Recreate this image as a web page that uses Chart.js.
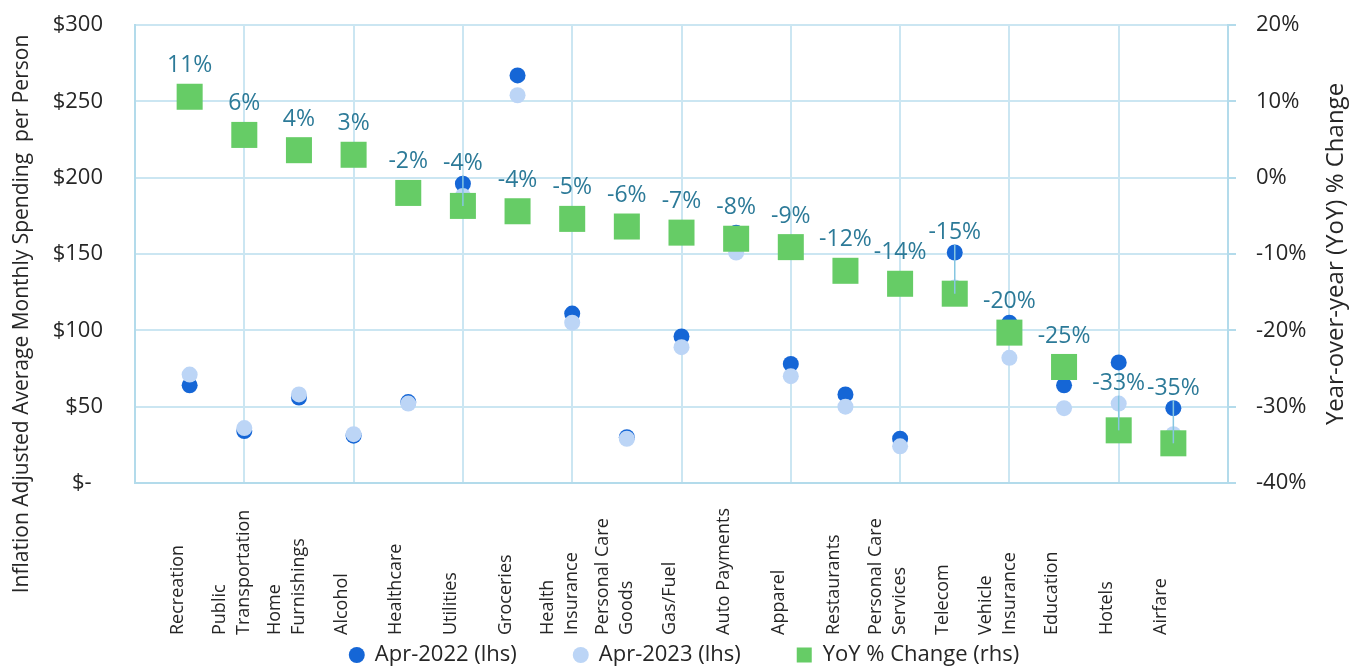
<!DOCTYPE html>
<html>
<head>
<meta charset="utf-8">
<script src="https://cdn.jsdelivr.net/npm/chart.js@4.4.0/dist/chart.umd.min.js"></script>
<style>
html, body { margin: 0; padding: 0; background: #fff; }
</style>
</head>
<body>
<canvas id="chart" width="1351" height="669"></canvas>
<script>
// Categories (multi-line ones split into lines)
const categories = [
    'Recreation', ['Public', 'Transportation'], ['Home', 'Furnishings'], 'Alcohol',
    'Healthcare', 'Utilities', 'Groceries', ['Health', 'Insurance'],
    ['Personal Care', 'Goods'], 'Gas/Fuel', 'Auto Payments', 'Apparel',
    'Restaurants', ['Personal Care', 'Services'], 'Telecom', ['Vehicle', 'Insurance'],
    'Education', 'Hotels', 'Airfare'
];

// Inflation adjusted average monthly spending per person ($)
const apr2022 = [64, 34, 56, 31, 53, 196, 267, 111, 30, 96, 164, 78, 58, 29, 151, 105, 64, 79, 49];
const apr2023 = [71, 36, 58, 32, 52, 188, 254, 105, 29, 89, 151, 70, 50, 24, 128, 82, 49, 52, 32];

// Year-over-year % change
const yoyChange = [10.6, 5.6, 3.6, 3.0, -2.0, -3.7, -4.4, -5.4, -6.4, -7.2, -8.0, -9.1, -12.2, -13.9, -15.2, -20.3, -24.8, -33.1, -34.8];

const leftTicks = { min: 0, max: 300, step: 50 };
const rightTicks = { min: -40, max: 20, step: 10 };

const FONT = "'Open Sans', sans-serif";
const gridColor = '#cbe6f2';
const axisColor = '#b3dbeb';
const textColor = '#262626';
const labelColor = '#2c7a98';

Chart.defaults.font.family = FONT;

function toPoints(values) {
    return values.map((v, i) => ({ x: i + 1, y: v }));
}

// fixed axis width, and no extra room above/below for the tick padding
function fixAxis(width) {
    return s => {
        s.width = width;
        s.paddingTop = 15;
        s.paddingBottom = 15;
    };
}

// Draws data labels, category labels, axis titles and the legend
const extraText = {
    id: 'extraText',
    afterDatasetsDraw(chart) {
        const ctx = chart.ctx;
        const squares = chart.getDatasetMeta(2).data;
        const dots = [chart.getDatasetMeta(0).data, chart.getDatasetMeta(1).data];
        ctx.save();
        ctx.font = '23px ' + FONT;
        ctx.textAlign = 'center';
        ctx.textBaseline = 'middle';
        squares.forEach((pt, i) => {
            let ly = pt.y - 31;
            let moved = false;
            // keep the label clear of the dots of the same category
            for (let pass = 0; pass < 3; pass++) {
                dots.forEach(d => {
                    if (Math.abs(d[i].y - ly) < 18) {
                        ly = d[i].y - 20;
                        moved = true;
                    }
                });
            }
            if (moved) {
                ctx.strokeStyle = '#86c6e1';
                ctx.lineWidth = 1.5;
                ctx.beginPath();
                ctx.moveTo(pt.x, ly + 12);
                ctx.lineTo(pt.x, pt.y);
                ctx.stroke();
            }
            ctx.fillStyle = labelColor;
            ctx.fillText(Math.round(yoyChange[i]) + '%', pt.x, ly);
        });
        ctx.restore();
    },
    afterDraw(chart) {
        const ctx = chart.ctx;
        const xs = chart.scales.x;
        const area = chart.chartArea;
        ctx.save();
        ctx.fillStyle = textColor;

        // category labels, rotated, starting from the bottom
        ctx.font = '18px ' + FONT;
        ctx.textAlign = 'left';
        ctx.textBaseline = 'middle';
        categories.forEach((c, i) => {
            const lines = Array.isArray(c) ? c : [c];
            const cx = xs.getPixelForValue(i + 1) - 12;
            lines.forEach((line, k) => {
                const lx = cx + (k - (lines.length - 1) / 2) * 24;
                ctx.save();
                ctx.translate(lx, 635);
                ctx.rotate(-Math.PI / 2);
                ctx.fillText(line, 0, 0);
                ctx.restore();
            });
        });

        // axis titles
        ctx.textAlign = 'center';
        ctx.font = '21px ' + FONT;
        ctx.save();
        ctx.translate(22, 314);
        ctx.rotate(-Math.PI / 2);
        ctx.fillText('Inflation Adjusted Average Monthly Spending  per Person', 0, 0);
        ctx.restore();

        ctx.font = '24px ' + FONT;
        ctx.save();
        ctx.translate(1336, (area.top + area.bottom) / 2);
        ctx.rotate(-Math.PI / 2);
        ctx.fillText('Year-over-year (YoY) % Change', 0, 0);
        ctx.restore();

        // legend
        ctx.font = '22px ' + FONT;
        ctx.textAlign = 'left';
        const sets = chart.data.datasets;
        const markerGap = 10, itemGap = 56, markerW = 16;
        const widths = sets.map(ds => markerW + markerGap + ctx.measureText(ds.label).width);
        const total = widths.reduce((a, b) => a + b, 0) + itemGap * (sets.length - 1);
        let lx = 684 - total / 2;
        const ly = 655;
        sets.forEach((ds, i) => {
            ctx.fillStyle = ds.backgroundColor;
            if (ds.pointStyle === 'rect') {
                ctx.fillRect(lx, ly - 7.5, 15, 15);
            } else {
                ctx.beginPath();
                ctx.arc(lx + 8, ly, 8, 0, Math.PI * 2);
                ctx.fill();
            }
            ctx.fillStyle = textColor;
            ctx.fillText(ds.label, lx + markerW + markerGap, ly);
            lx += widths[i] + itemGap;
        });

        ctx.restore();
    }
};

const ctx = document.getElementById('chart').getContext('2d');
new Chart(ctx, {
    type: 'scatter',
    data: {
        datasets: [{
            label: 'Apr-2022 (lhs)',
            data: toPoints(apr2022),
            yAxisID: 'y',
            pointStyle: 'circle',
            pointRadius: 8,
            backgroundColor: '#1566d6',
            borderWidth: 0,
            order: 2
        }, {
            label: 'Apr-2023 (lhs)',
            data: toPoints(apr2023),
            yAxisID: 'y',
            pointStyle: 'circle',
            pointRadius: 8,
            backgroundColor: '#bcd5f6',
            borderWidth: 0,
            order: 1
        }, {
            label: 'YoY % Change (rhs)',
            data: toPoints(yoyChange),
            yAxisID: 'y2',
            pointStyle: 'rect',
            pointRadius: 18.4,
            backgroundColor: '#66cc66',
            borderWidth: 0,
            order: 0
        }]
    },
    options: {
        responsive: false,
        animation: false,
        events: [],
        layout: { autoPadding: false, padding: { top: 25, left: 0, right: 0, bottom: 0 } },
        plugins: {
            legend: { display: false },
            tooltip: { enabled: false }
        },
        scales: {
            x: {
                type: 'linear',
                min: 0,
                max: categories.length + 1,
                ticks: { display: false, stepSize: 2 },
                grid: { color: gridColor, lineWidth: 2, drawTicks: false },
                border: { color: axisColor, width: 2 },
                afterFit: s => { s.height = 186; }
            },
            y: {
                position: 'left',
                min: leftTicks.min,
                max: leftTicks.max,
                ticks: {
                    stepSize: leftTicks.step,
                    padding: 32,
                    color: textColor,
                    font: { size: 22 },
                    callback: v => v === 0 ? '$-  ' : '$' + v
                },
                grid: { color: gridColor, lineWidth: 2, drawTicks: false },
                border: { color: axisColor, width: 2 },
                afterFit: fixAxis(135)
            },
            y2: {
                position: 'right',
                min: rightTicks.min,
                max: rightTicks.max,
                ticks: {
                    stepSize: rightTicks.step,
                    padding: 20,
                    color: textColor,
                    font: { size: 22 },
                    callback: v => v + '%'
                },
                grid: { drawOnChartArea: false, color: axisColor, lineWidth: 2, tickLength: 8 },
                border: { color: axisColor, width: 2 },
                afterFit: fixAxis(123)
            }
        }
    },
    plugins: [extraText]
});
</script>
</body>
</html>
